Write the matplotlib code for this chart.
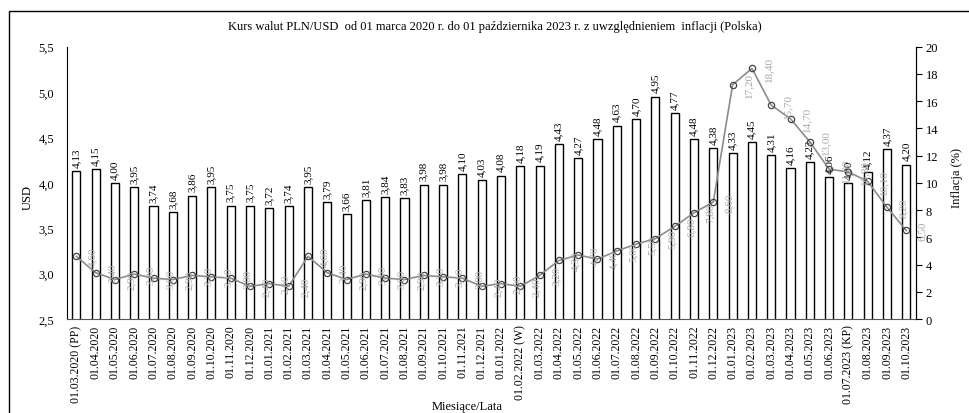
import numpy as np
import matplotlib
matplotlib.use('Agg')
import matplotlib.pyplot as plt
from matplotlib.patches import Rectangle
from matplotlib.ticker import FuncFormatter

plt.rcParams['font.family'] = ['Liberation Serif', 'DejaVu Serif']

# Miesiace (kategorie osi X)
miesiace = ['01.03.2020 (PP)', '01.04.2020', '01.05.2020', '01.06.2020', '01.07.2020',
            '01.08.2020', '01.09.2020', '01.10.2020', '01.11.2020', '01.12.2020',
            '01.01.2021', '01.02.2021', '01.03.2021', '01.04.2021', '01.05.2021',
            '01.06.2021', '01.07.2021', '01.08.2021', '01.09.2021', '01.10.2021',
            '01.11.2021', '01.12.2021', '01.01.2022', '01.02.2022 (W)', '01.03.2022',
            '01.04.2022', '01.05.2022', '01.06.2022', '01.07.2022', '01.08.2022',
            '01.09.2022', '01.10.2022', '01.11.2022', '01.12.2022', '01.01.2023',
            '01.02.2023', '01.03.2023', '01.04.2023', '01.05.2023', '01.06.2023',
            '01.07.2023 (KP)', '01.08.2023', '01.09.2023', '01.10.2023']

# Kurs PLN/USD
kurs_usd = [4.13, 4.15, 4.00, 3.95, 3.74, 3.68, 3.86, 3.95, 3.75, 3.75,
            3.72, 3.74, 3.95, 3.79, 3.66, 3.81, 3.84, 3.83, 3.98, 3.98,
            4.10, 4.03, 4.08, 4.18, 4.19, 4.43, 4.27, 4.48, 4.63, 4.70,
            4.95, 4.77, 4.48, 4.38, 4.33, 4.45, 4.31, 4.16, 4.23, 4.06,
            4.00, 4.12, 4.37, 4.20]

# Inflacja (%)
inflacja = [4.6, 3.4, 2.9, 3.3, 3.0, 2.9, 3.2, 3.1, 3.0, 2.4,
            2.6, 2.4, 4.6, 3.4, 2.9, 3.3, 3.0, 2.9, 3.2, 3.1,
            3.0, 2.4, 2.6, 2.4, 3.2, 4.3, 4.7, 4.4, 5.0, 5.5,
            5.9, 6.8, 7.8, 8.6, 17.2, 18.4, 15.7, 14.7, 13.0, 11.0,
            10.8, 10.1, 8.2, 6.5]

x = np.arange(len(miesiace))
przecinek = lambda v: f'{v:.2f}'.replace('.', ',')

fig = plt.figure(figsize=(9.69, 4.14), dpi=100)
ax = fig.add_axes([0.0688, 0.227, 0.8765, 0.658])

ax.bar(x, kurs_usd, width=0.42, bottom=0, color='white', edgecolor='black', linewidth=1.0)
for xi, v in zip(x, kurs_usd):
    ax.annotate(przecinek(v), (xi, v), xytext=(0, 3), textcoords='offset points',
                rotation=90, ha='center', va='bottom', fontsize=8)

ax.set_xlim(-0.5, len(miesiace) - 0.5)
ax.set_ylim(2.5, 5.5)
ax.set_yticks([2.5, 3.0, 3.5, 4.0, 4.5, 5.0, 5.5])
ax.yaxis.set_major_formatter(FuncFormatter(lambda v, p: f'{v:.1f}'.replace('.', ',')))
ax.set_xticks(x)
ax.set_xticklabels(miesiace, rotation=90, fontsize=8.5)
ax.tick_params(axis='x', length=0, pad=4)
ax.tick_params(axis='y', length=0, pad=9, labelsize=9)
ax.spines['top'].set_visible(False)
ax.spines['bottom'].set_color('#555555')

ax2 = ax.twinx()
ax2.plot(x, inflacja, color='#8c8c8c', linewidth=1.2, marker='o', markersize=4.5,
         markerfacecolor='none', markeredgecolor='#444444', markeredgewidth=0.9)
for xi, v in zip(x, inflacja):
    ax2.text(xi + 0.85, v, przecinek(v), rotation=90, ha='center', va='center',
             fontsize=8, color='#a8a8a8')
ax2.set_ylim(0, 20)
ax2.set_yticks(range(0, 21, 2))
ax2.tick_params(axis='y', length=4, pad=3, labelsize=9)
ax2.spines['top'].set_visible(False)
ax2.spines['left'].set_visible(False)
ax2.spines['bottom'].set_visible(False)

fig.text(0.0289, 0.524, 'USD', rotation=90, ha='center', va='center', fontsize=9)
fig.text(0.9876, 0.57, 'Inflacja (%)', rotation=90, ha='center', va='center', fontsize=9)
fig.text(0.482, 0.017, 'Miesiące/Lata', ha='center', va='center', fontsize=9)
fig.text(0.511, 0.935,
         'Kurs walut PLN/USD  od 01 marca 2020 r. do 01 października 2023 r. z uwzględnieniem  inflacji (Polska)',
         ha='center', va='center', fontsize=9)

fig.add_artist(Rectangle((0.0098, -0.1), 1.2, 1.07, transform=fig.transFigure,
                         fill=False, edgecolor='black', linewidth=1.0))

fig.savefig('out.png', dpi=100)
